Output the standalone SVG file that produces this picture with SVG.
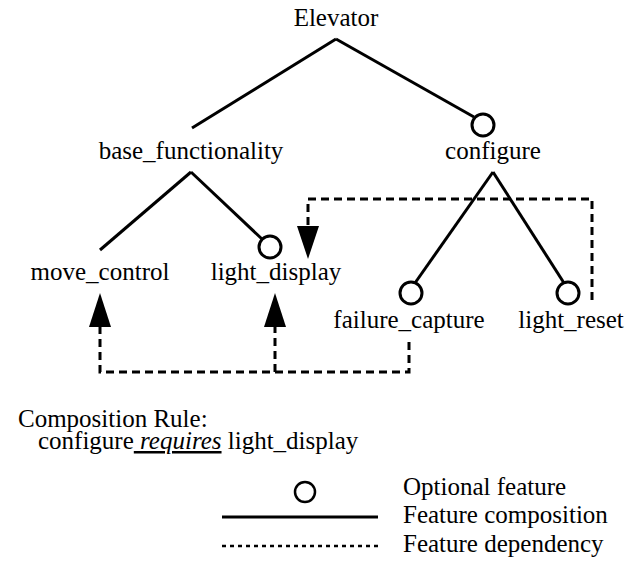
<svg xmlns="http://www.w3.org/2000/svg" width="627" height="570" viewBox="0 0 627 570">
<rect width="627" height="570" fill="#fff"/>
<g id="connectors" stroke="#000" stroke-width="3" fill="none">
<line x1="336" y1="39" x2="192" y2="128"/>
<line x1="336" y1="39" x2="474" y2="117"/>
<line x1="191" y1="172" x2="100" y2="250"/>
<line x1="191" y1="172" x2="262" y2="239"/>
<line x1="493" y1="172" x2="415" y2="283"/>
<line x1="493" y1="172" x2="564" y2="283"/>
<g stroke-dasharray="8 5">
<polyline points="592,300 592,199 308,199 308,228"/>
<polyline points="409,342 409,372 100,372 100,325"/>
<line x1="275" y1="372" x2="275" y2="325"/>
</g>
<g fill="#000" stroke="none">
<polygon points="297,226 319,226 308,259"/>
<polygon points="89,327 111,327 100,293"/>
<polygon points="264,327 286,327 275,293"/>
</g>
</g>
<g id="elevator"><text x="336" y="26" text-anchor="middle" font-family="Liberation Serif" font-size="25">Elevator</text></g>
<g id="base_functionality"><text x="191" y="159" text-anchor="middle" font-family="Liberation Serif" font-size="25">base_functionality</text></g>
<g id="configure"><circle cx="483" cy="125" r="11" fill="#fff" stroke="#000" stroke-width="3"/><text x="493" y="159" text-anchor="middle" font-family="Liberation Serif" font-size="25">configure</text></g>
<g id="move_control"><text x="100" y="280" text-anchor="middle" font-family="Liberation Serif" font-size="25">move_control</text></g>
<g id="light_display"><circle cx="270" cy="247" r="11" fill="#fff" stroke="#000" stroke-width="3"/><text x="276" y="280" text-anchor="middle" font-family="Liberation Serif" font-size="25">light_display</text></g>
<g id="failure_capture"><circle cx="411" cy="293" r="11" fill="#fff" stroke="#000" stroke-width="3"/><text x="409" y="328" text-anchor="middle" font-family="Liberation Serif" font-size="25">failure_capture</text></g>
<g id="light_reset"><circle cx="568" cy="293" r="11" fill="#fff" stroke="#000" stroke-width="3"/><text x="571" y="328" text-anchor="middle" font-family="Liberation Serif" font-size="25">light_reset</text></g>
<g id="rule">
<text x="18" y="427" font-family="Liberation Serif" font-size="25">Composition Rule:</text>
<text x="38" y="449" font-family="Liberation Serif" font-size="25">configure<tspan font-style="italic" text-decoration="underline"> requires</tspan> light_display</text>
</g>
<g id="legend">
<circle cx="305" cy="492" r="10" fill="none" stroke="#000" stroke-width="2.5"/>
<line x1="222" y1="517" x2="378" y2="517" stroke="#000" stroke-width="3"/>
<line x1="222" y1="546" x2="378" y2="546" stroke="#000" stroke-width="2.5" stroke-dasharray="4 4"/>
<text x="403" y="495" font-family="Liberation Serif" font-size="25">Optional feature</text>
<text x="403" y="523" font-family="Liberation Serif" font-size="25">Feature composition</text>
<text x="403" y="552" font-family="Liberation Serif" font-size="25">Feature dependency</text>
</g>
</svg>
